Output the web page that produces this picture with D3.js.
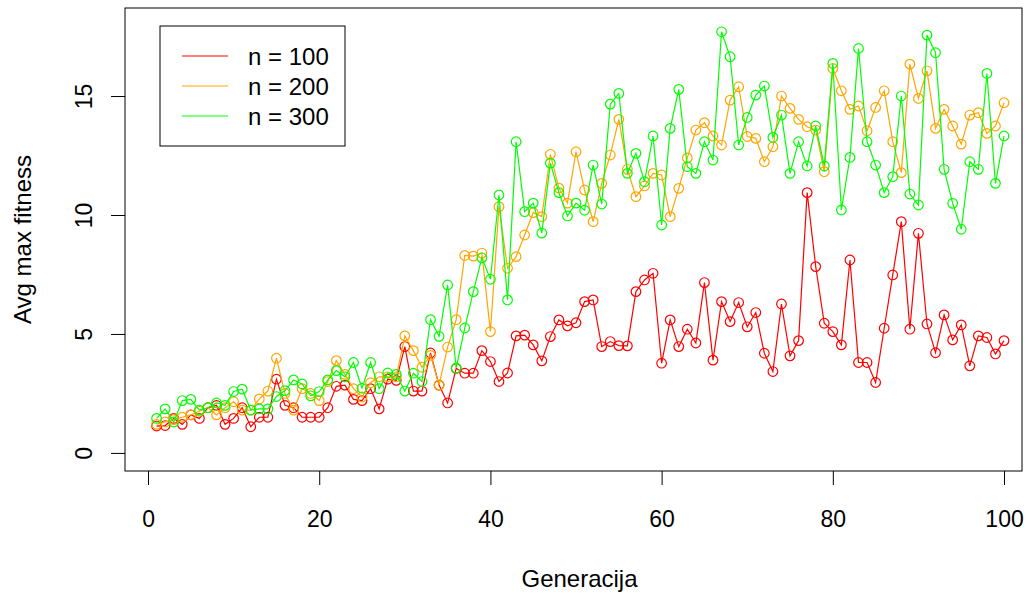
<!DOCTYPE html>
<html>
<head>
<meta charset="utf-8">
<script src="https://cdn.jsdelivr.net/npm/d3@7"></script>
<style>
  body { margin: 0; background: #fff; }
  svg { display: block; font-family: "Liberation Sans", Arial, sans-serif; }
</style>
</head>
<body>
<svg id="chart" width="1028" height="594"></svg>
<script>
// generations 1..100
const generations = d3.range(1, 101)

// avg max fitness per generation
const n100 = [
  1.13, 1.15, 1.45, 1.2, 1.6, 1.45, 1.9, 2.0, 1.2, 1.45,
  1.9, 1.1, 1.5, 1.5, 3.1, 2.0, 1.9, 1.5, 1.5, 1.5,
  1.9, 2.8, 2.85, 2.25, 2.2, 2.7, 1.85, 3.1, 3.05, 4.47,
  2.6, 2.6, 4.2, 2.85, 2.1, 3.55, 3.35, 3.35, 4.3, 3.84,
  3.0, 3.36, 4.92, 4.95, 4.54, 3.87, 4.89, 5.59, 5.34, 5.47,
  6.36, 6.43, 4.47, 4.68, 4.51, 4.5, 6.78, 7.27, 7.55, 3.77,
  5.59, 4.47, 5.2, 4.62, 7.16, 3.9, 6.36, 5.52, 6.32, 5.3,
  5.9, 4.19, 3.42, 6.26, 4.08, 4.72, 10.94, 7.83, 5.45, 5.1,
  4.54, 8.11, 3.8, 3.8, 2.96, 5.24, 7.48, 9.72, 5.2, 9.23,
  5.42, 4.21, 5.8, 4.75, 5.38, 3.66, 4.92, 4.85, 4.16, 4.72
]
const n200 = [
  1.2, 1.3, 1.4, 1.5, 1.6, 1.75, 1.9, 1.6, 1.9, 2.15,
  1.8, 1.8, 2.27, 2.6, 3.98, 2.5, 1.8, 2.7, 2.5, 2.2,
  3.0, 3.88, 3.3, 2.7, 2.35, 2.95, 3.2, 3.2, 3.2, 4.92,
  4.3, 3.6, 4.1, 2.86, 4.45, 5.6, 8.3, 8.27, 8.4, 5.1,
  10.35, 7.76, 8.25, 9.16, 10.1, 9.93, 12.55, 11.13, 10.5, 12.66,
  11.05, 9.72, 11.33, 12.52, 14.02, 11.92, 10.77, 11.22, 11.75, 11.68,
  9.93, 11.12, 12.4, 13.57, 13.88, 13.32, 12.94, 14.83, 15.39, 13.3,
  13.22, 12.24, 12.87, 15.0, 14.48, 14.02, 13.71, 13.57, 11.82, 16.16,
  15.22, 14.44, 14.58, 13.54, 14.52, 15.22, 13.08, 11.78, 16.34, 14.9,
  16.06, 13.64, 14.44, 13.74, 12.98, 14.2, 14.3, 13.43, 13.74, 14.72
]
const n300 = [
  1.45, 1.85, 1.3, 2.2, 2.25, 1.8, 1.9, 2.1, 2.0, 2.58,
  2.68, 1.8, 1.85, 1.85, 2.37, 2.62, 3.07, 2.9, 2.4, 2.58,
  3.07, 3.46, 3.2, 3.8, 2.72, 3.8, 2.7, 3.36, 3.3, 2.6,
  3.35, 3.0, 5.6, 4.9, 7.06, 3.57, 5.25, 6.78, 8.2, 7.3,
  10.84, 6.43, 13.08, 10.14, 10.5, 9.24, 12.18, 10.94, 9.96, 10.5,
  10.2, 12.1, 10.46, 14.66, 15.11, 11.75, 12.59, 11.4, 13.32, 9.58,
  13.64, 15.28, 12.03, 11.75, 13.08, 12.31, 17.7, 16.65, 12.94, 14.1,
  15.04, 15.42, 13.26, 14.2, 11.75, 13.08, 12.06, 13.74, 12.06, 16.37,
  10.21, 12.42, 17.0, 13.08, 12.1, 10.94, 11.61, 15.0, 10.88, 10.42,
  17.56, 16.82, 11.92, 10.49, 9.4, 12.24, 11.92, 15.95, 11.33, 13.32
]

const series_names = ['n = 100', 'n = 200', 'n = 300']
const series_colors = ['#ff0000', '#ffa500', '#00ff00']
const x_ticks = [0, 20, 40, 60, 80, 100]
const y_ticks = [0, 5, 10, 15]

// plot box in pixels
const box = { left: 125, right: 1022, top: 8, bottom: 471 }
const tick_len = 14
const font_size = '23px'

const svg = d3.select('#chart')

const x = d3.scaleLinear()
  .domain([-2.69, 102.1])
  .range([box.left, box.right])

const y = d3.scaleLinear()
  .domain([-0.76, 18.7])
  .range([box.bottom, box.top])

// Axes
let x_axis = svg.append('g')
  .attr('transform', `translate(0, ${box.bottom})`)
  .call(d3.axisBottom(x).tickValues(x_ticks).tickSize(tick_len).tickPadding(26))
let y_axis = svg.append('g')
  .attr('transform', `translate(${box.left}, 0)`)
  .call(d3.axisLeft(y).tickValues(y_ticks).tickSize(tick_len))

for (let ax of [x_axis, y_axis]) {
  ax.select('.domain').remove()
  ax.selectAll('line').attr('stroke', '#000')
  ax.selectAll('text')
    .attr('fill', '#000')
    .style('font-size', font_size)
    .style('font-family', '"Liberation Sans", Arial, sans-serif')
}

// y tick labels run along the axis, as R draws them
y_axis.selectAll('.tick text')
  .attr('x', null)
  .attr('dy', '0.35em')
  .attr('text-anchor', 'middle')
  .attr('transform', `translate(${84 - box.left}, 0) rotate(-90)`)

// plot box
svg.append('rect')
  .attr('x', box.left).attr('y', box.top)
  .attr('width', box.right - box.left)
  .attr('height', box.bottom - box.top)
  .attr('fill', 'none')
  .attr('stroke', '#000')

// Series
let all_series = [n100, n200, n300]
let line = d3.line()
  .x((d, i) => x(generations[i]))
  .y(d => y(d))

all_series.forEach(function(values, s) {
  let g = svg.append('g').attr('class', 'series')
  g.append('path')
    .attr('d', line(values))
    .attr('fill', 'none')
    .attr('stroke', series_colors[s])
    .attr('stroke-width', 1.2)
  g.selectAll('circle')
    .data(values)
    .join('circle')
    .attr('cx', (d, i) => x(generations[i]))
    .attr('cy', d => y(d))
    .attr('r', 4.8)
    .attr('fill', 'none')
    .attr('stroke', series_colors[s])
    .attr('stroke-width', 1.2)
})

// Axis titles
svg.append('text')
  .attr('x', (box.left + box.right) / 2 + 6)
  .attr('y', 587)
  .attr('text-anchor', 'middle')
  .style('font-size', '24px')
  .text('Generacija')
svg.append('text')
  .attr('transform', `translate(31, ${(box.top + box.bottom) / 2}) rotate(-90)`)
  .attr('text-anchor', 'middle')
  .style('font-size', '24px')
  .text('Avg max fitness')

// Legend
let legend = svg.append('g')
legend.append('rect')
  .attr('x', 160).attr('y', 26)
  .attr('width', 185).attr('height', 120)
  .attr('fill', '#fff')
  .attr('stroke', '#000')
series_names.forEach(function(name, i) {
  let ly = 56 + i * 30
  legend.append('line')
    .attr('x1', 182).attr('x2', 228)
    .attr('y1', ly).attr('y2', ly)
    .attr('stroke', series_colors[i])
    .attr('stroke-width', 1.2)
  legend.append('text')
    .attr('x', 248).attr('y', ly + 8.5)
    .style('font-size', '24px')
    .text(name)
})
</script>
</body>
</html>
